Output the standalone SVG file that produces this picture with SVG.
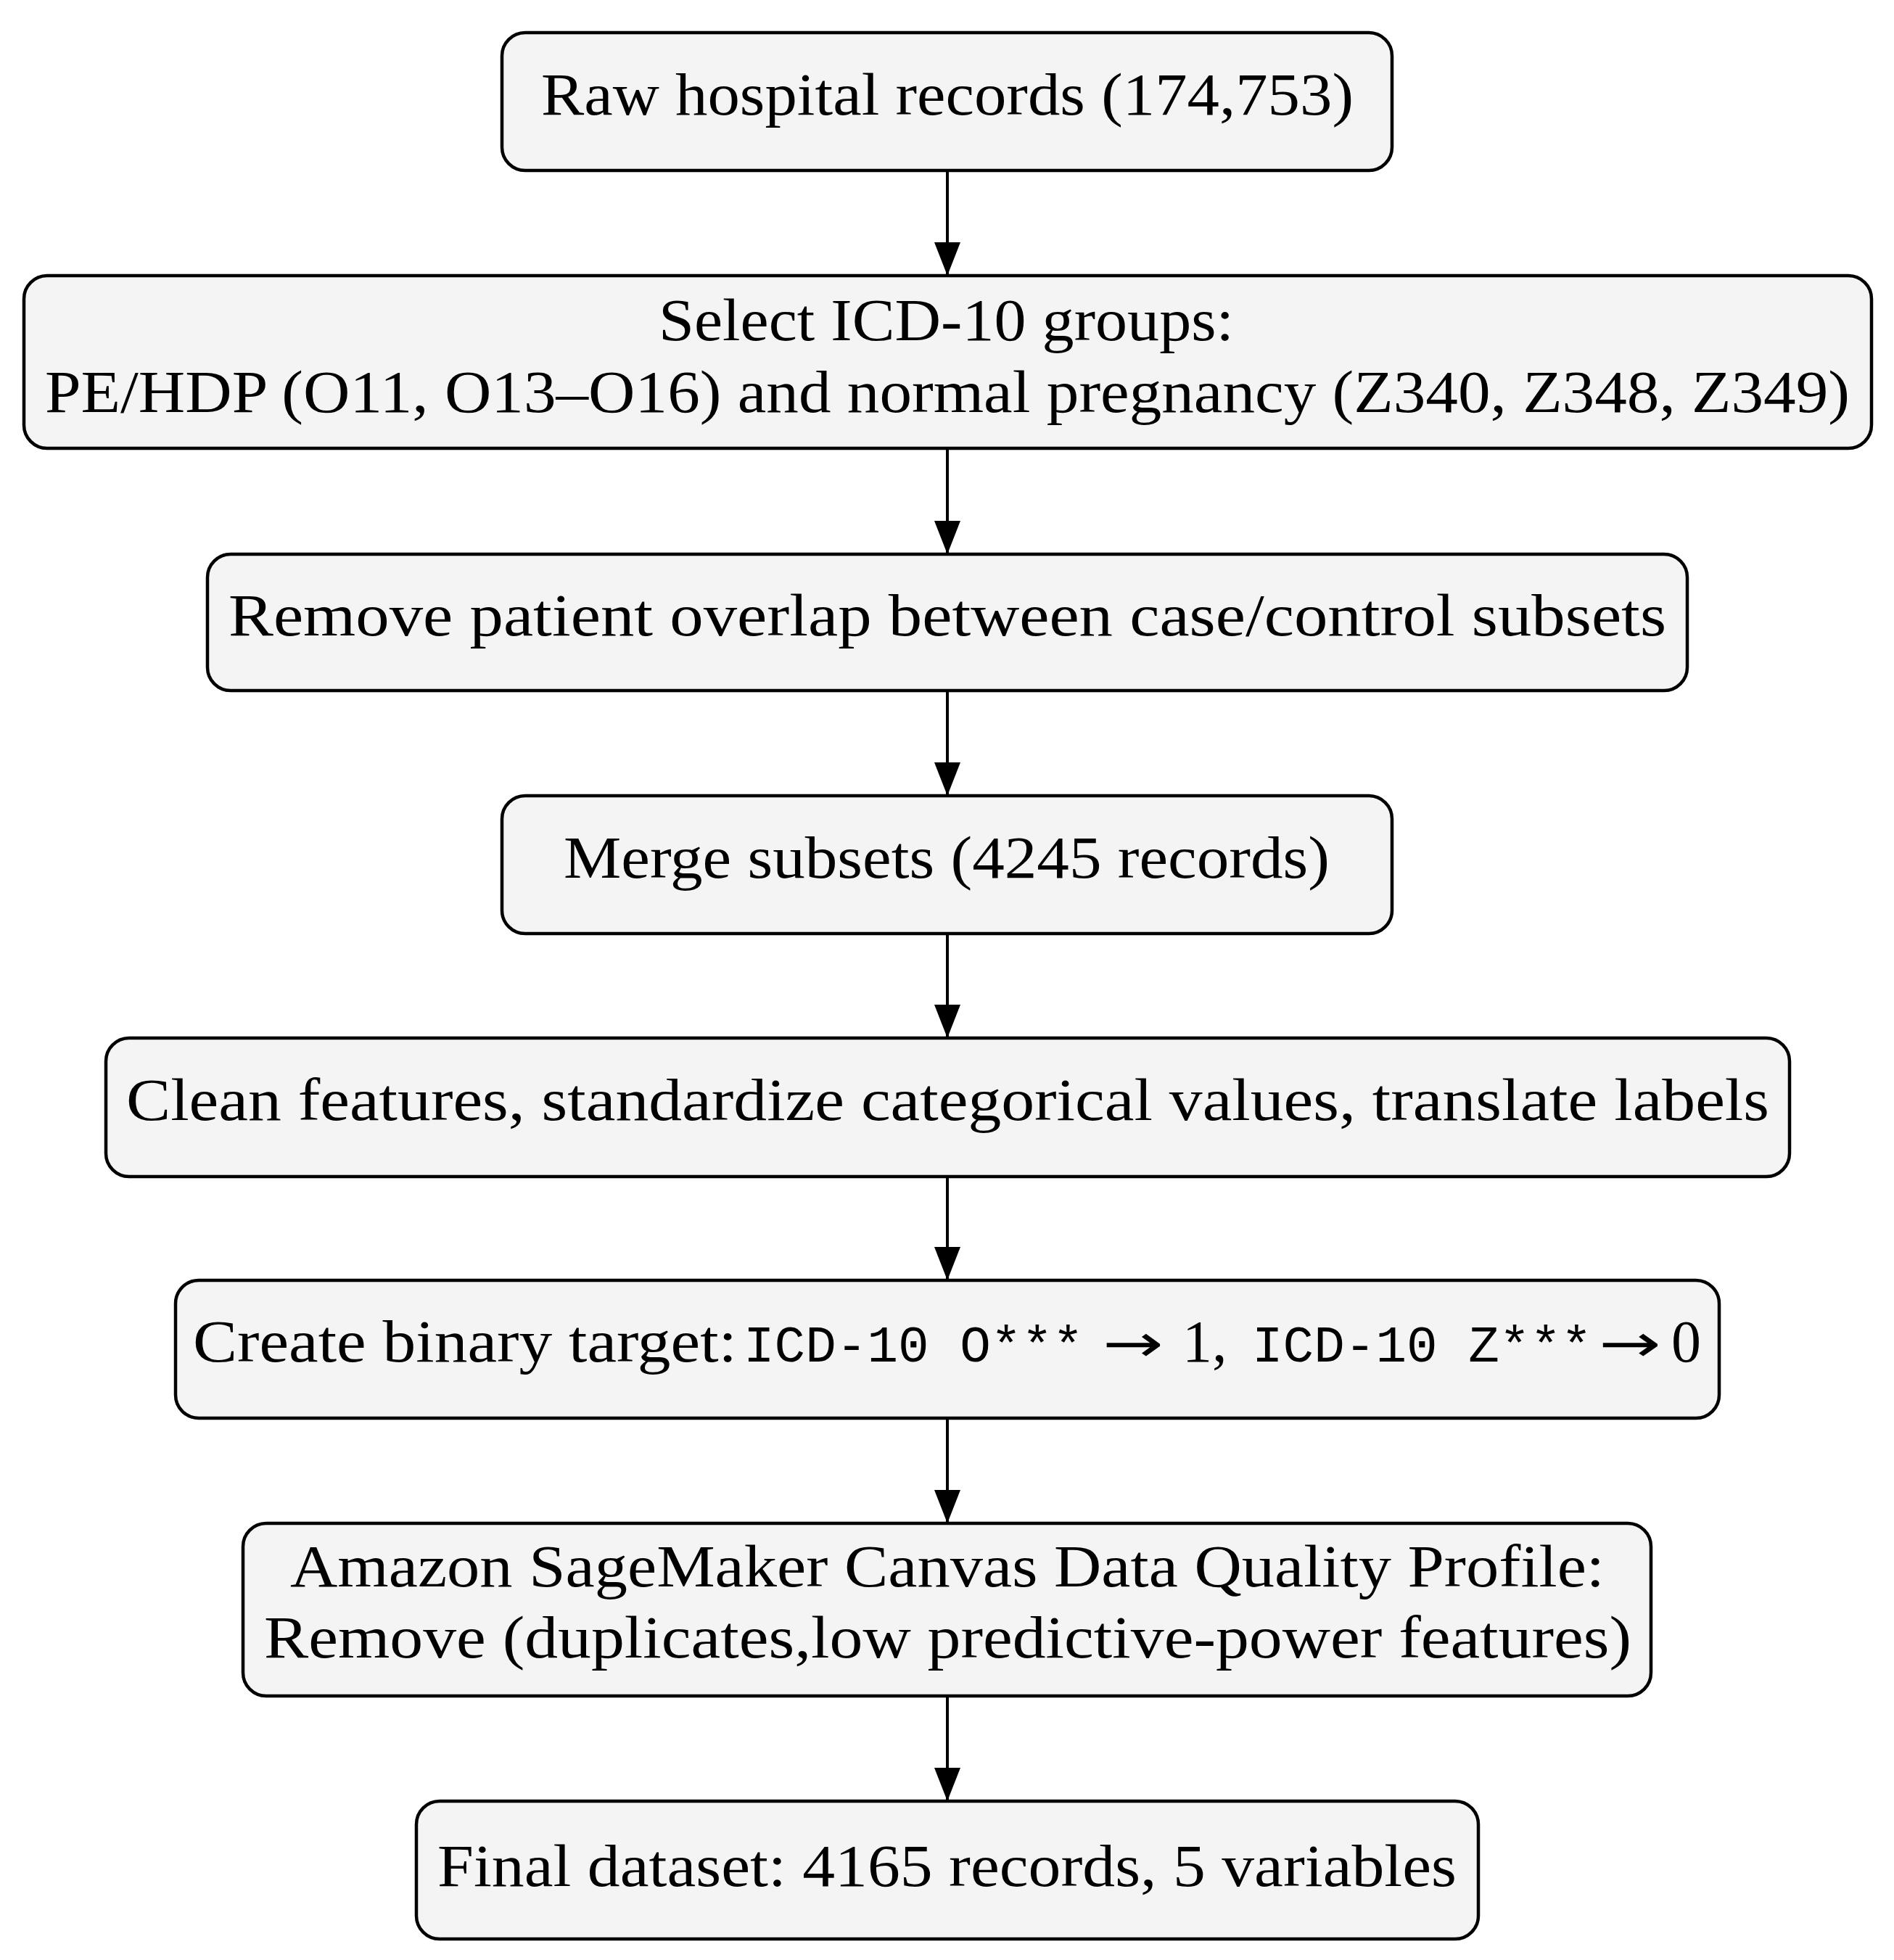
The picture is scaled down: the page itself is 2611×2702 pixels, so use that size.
<svg xmlns="http://www.w3.org/2000/svg" width="2611" height="2702" viewBox="0 0 2611 2702">
<defs>
<style>
.box{fill:#f4f4f4;stroke:#000;stroke-width:4.5}
.t{font-family:"Liberation Serif","Times New Roman",serif;font-size:82px;fill:#000}
.m{font-family:"Liberation Mono","Courier New",monospace;font-size:71px}
.a{font-family:"DejaVu Sans",sans-serif;font-size:72px}
.c{stroke:#000;stroke-width:4;fill:none}
</style>
<marker id="ah" markerUnits="userSpaceOnUse" markerWidth="48" markerHeight="38" refX="46" refY="18" orient="auto" viewBox="0 0 48 38">
<path d="M0,0 L46,18 L0,36 Z" fill="#000"/>
</marker>
</defs>
<rect width="2611" height="2702" fill="#fff"/>
<g id="connectors">
<line class="c" x1="1306" y1="235" x2="1306" y2="380" marker-end="url(#ah)"/>
<line class="c" x1="1306" y1="618" x2="1306" y2="764" marker-end="url(#ah)"/>
<line class="c" x1="1306" y1="952" x2="1306" y2="1097" marker-end="url(#ah)"/>
<line class="c" x1="1306" y1="1287" x2="1306" y2="1431" marker-end="url(#ah)"/>
<line class="c" x1="1306" y1="1622" x2="1306" y2="1765" marker-end="url(#ah)"/>
<line class="c" x1="1306" y1="1955" x2="1306" y2="2100" marker-end="url(#ah)"/>
<line class="c" x1="1306" y1="2338" x2="1306" y2="2483" marker-end="url(#ah)"/>
</g>
<g id="n1">
<rect class="box" x="692" y="45" width="1227" height="190" rx="32" ry="32"/>
<text class="t" x="746" y="158" textLength="1120" lengthAdjust="spacingAndGlyphs">Raw hospital records (174,753)</text>
</g>
<g id="n2">
<rect class="box" x="33" y="380" width="2547" height="238" rx="32" ry="32"/>
<text class="t" x="908" y="469" textLength="793" lengthAdjust="spacingAndGlyphs">Select ICD-10 groups:</text>
<text class="t" x="62" y="568" textLength="2488" lengthAdjust="spacingAndGlyphs">PE/HDP (O11, O13–O16) and normal pregnancy (Z340, Z348, Z349)</text>
</g>
<g id="n3">
<rect class="box" x="286" y="764" width="2040" height="188" rx="32" ry="32"/>
<text class="t" x="315" y="876" textLength="1982" lengthAdjust="spacingAndGlyphs">Remove patient overlap between case/control subsets</text>
</g>
<g id="n4">
<rect class="box" x="692" y="1097" width="1227" height="190" rx="32" ry="32"/>
<text class="t" x="777" y="1210" textLength="1056" lengthAdjust="spacingAndGlyphs">Merge subsets (4245 records)</text>
</g>
<g id="n5">
<rect class="box" x="146" y="1431" width="2321" height="191" rx="32" ry="32"/>
<text class="t" x="174" y="1544" textLength="2265" lengthAdjust="spacingAndGlyphs">Clean features, standardize categorical values, translate labels</text>
</g>
<g id="n6">
<rect class="box" x="242" y="1765" width="2128" height="190" rx="32" ry="32"/>
<text class="t" y="1877"><tspan x="266" textLength="750" lengthAdjust="spacingAndGlyphs">Create binary target:</tspan><tspan class="m" x="1025">ICD-10 O***</tspan><tspan class="a" x="1520" textLength="84" lengthAdjust="spacingAndGlyphs">→</tspan><tspan x="1630">1,</tspan><tspan class="m" x="1726">ICD-10 Z***</tspan><tspan class="a" x="2204" textLength="86" lengthAdjust="spacingAndGlyphs">→</tspan><tspan x="2304">0</tspan></text>
</g>
<g id="n7">
<rect class="box" x="335" y="2100" width="1941" height="238" rx="32" ry="32"/>
<text class="t" x="400" y="2187" textLength="1812" lengthAdjust="spacingAndGlyphs">Amazon SageMaker Canvas Data Quality Profile:</text>
<text class="t" x="364" y="2285" textLength="1885" lengthAdjust="spacingAndGlyphs">Remove (duplicates,low predictive-power features)</text>
</g>
<g id="n8">
<rect class="box" x="574" y="2483" width="1464" height="190" rx="32" ry="32"/>
<text class="t" x="603" y="2600" textLength="1405" lengthAdjust="spacingAndGlyphs">Final dataset: 4165 records, 5 variables</text>
</g>
</svg>
